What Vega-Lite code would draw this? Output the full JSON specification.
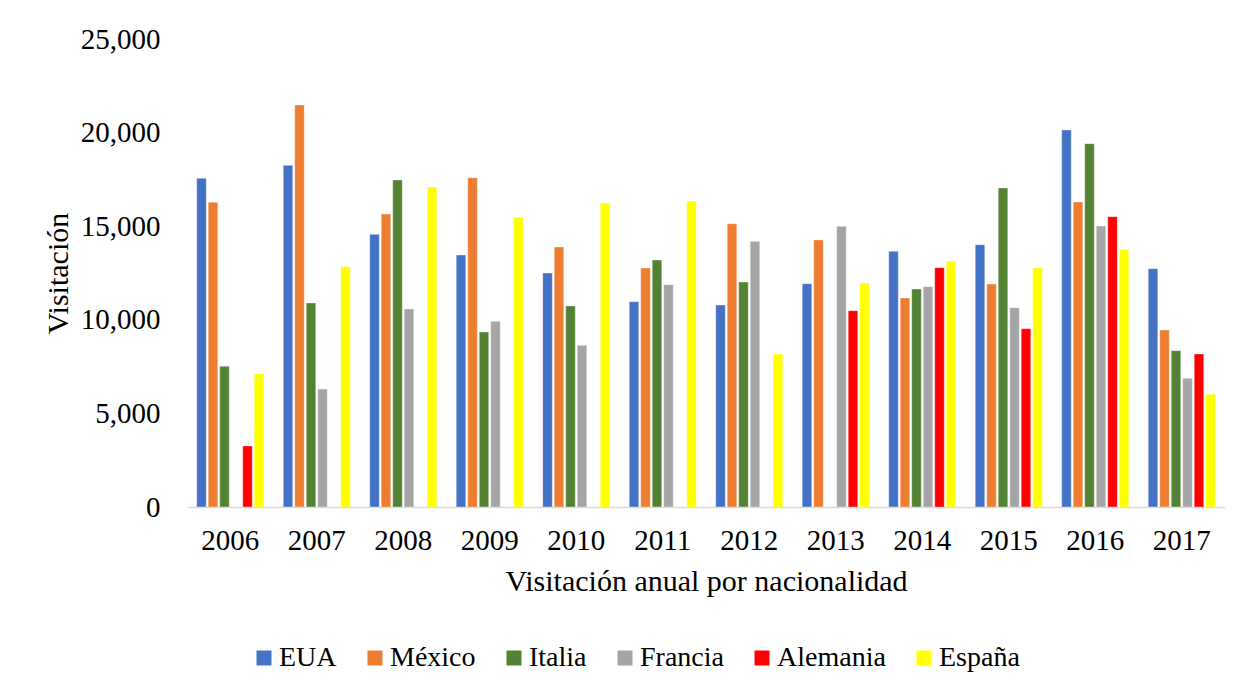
{
  "$schema": "https://vega.github.io/schema/vega-lite/v6.json",
  "autosize": {"type": "none"},
  "padding": {"left": 187, "top": 39, "right": 27, "bottom": 185},
  "width": 1038,
  "height": 468,
  "background": "white",
  "config": {
    "font": "Liberation Serif, Times New Roman, serif",
    "view": {"stroke": null},
    "style": {"guide-label": {"font": "Liberation Serif, Times New Roman, serif"}, "guide-title": {"font": "Liberation Serif, Times New Roman, serif"}},
    "legend": {"labelFont": "Liberation Serif, Times New Roman, serif", "titleFont": "Liberation Serif, Times New Roman, serif"},
    "axis": {"labelFont": "Liberation Serif, Times New Roman, serif", "titleFont": "Liberation Serif, Times New Roman, serif"}
  },
  "data": {
    "values": [
      {"year": "2006", "country": "EUA", "value": 17560},
      {"year": "2006", "country": "México", "value": 16275},
      {"year": "2006", "country": "Italia", "value": 7515},
      {"year": "2006", "country": "Alemania", "value": 3260},
      {"year": "2006", "country": "España", "value": 7120},
      {"year": "2007", "country": "EUA", "value": 18250},
      {"year": "2007", "country": "México", "value": 21475},
      {"year": "2007", "country": "Italia", "value": 10900},
      {"year": "2007", "country": "Francia", "value": 6300},
      {"year": "2007", "country": "España", "value": 12840},
      {"year": "2008", "country": "EUA", "value": 14565},
      {"year": "2008", "country": "México", "value": 15650},
      {"year": "2008", "country": "Italia", "value": 17470},
      {"year": "2008", "country": "Francia", "value": 10580},
      {"year": "2008", "country": "España", "value": 17095},
      {"year": "2009", "country": "EUA", "value": 13460},
      {"year": "2009", "country": "México", "value": 17590},
      {"year": "2009", "country": "Italia", "value": 9350},
      {"year": "2009", "country": "Francia", "value": 9920},
      {"year": "2009", "country": "España", "value": 15475},
      {"year": "2010", "country": "EUA", "value": 12500},
      {"year": "2010", "country": "México", "value": 13890},
      {"year": "2010", "country": "Italia", "value": 10740},
      {"year": "2010", "country": "Francia", "value": 8635},
      {"year": "2010", "country": "España", "value": 16240},
      {"year": "2011", "country": "EUA", "value": 10970},
      {"year": "2011", "country": "México", "value": 12765},
      {"year": "2011", "country": "Italia", "value": 13195},
      {"year": "2011", "country": "Francia", "value": 11877},
      {"year": "2011", "country": "España", "value": 16345},
      {"year": "2012", "country": "EUA", "value": 10790},
      {"year": "2012", "country": "México", "value": 15135},
      {"year": "2012", "country": "Italia", "value": 12020},
      {"year": "2012", "country": "Francia", "value": 14190},
      {"year": "2012", "country": "España", "value": 8173},
      {"year": "2013", "country": "EUA", "value": 11930},
      {"year": "2013", "country": "México", "value": 14263},
      {"year": "2013", "country": "Francia", "value": 14993},
      {"year": "2013", "country": "Alemania", "value": 10488},
      {"year": "2013", "country": "España", "value": 11966},
      {"year": "2014", "country": "EUA", "value": 13657},
      {"year": "2014", "country": "México", "value": 11165},
      {"year": "2014", "country": "Italia", "value": 11645},
      {"year": "2014", "country": "Francia", "value": 11770},
      {"year": "2014", "country": "Alemania", "value": 12785},
      {"year": "2014", "country": "España", "value": 13123},
      {"year": "2015", "country": "EUA", "value": 14013},
      {"year": "2015", "country": "México", "value": 11912},
      {"year": "2015", "country": "Italia", "value": 17040},
      {"year": "2015", "country": "Francia", "value": 10648},
      {"year": "2015", "country": "Alemania", "value": 9527},
      {"year": "2015", "country": "España", "value": 12785},
      {"year": "2016", "country": "EUA", "value": 20139},
      {"year": "2016", "country": "México", "value": 16293},
      {"year": "2016", "country": "Italia", "value": 19410},
      {"year": "2016", "country": "Francia", "value": 15011},
      {"year": "2016", "country": "Alemania", "value": 15510},
      {"year": "2016", "country": "España", "value": 13765},
      {"year": "2017", "country": "EUA", "value": 12732},
      {"year": "2017", "country": "México", "value": 9455},
      {"year": "2017", "country": "Italia", "value": 8352},
      {"year": "2017", "country": "Francia", "value": 6873},
      {"year": "2017", "country": "Alemania", "value": 8173},
      {"year": "2017", "country": "España", "value": 6019}
    ]
  },
  "mark": {"type": "bar", "stroke": "white", "strokeWidth": 0.6, "strokeOpacity": 0.6},
  "encoding": {
    "x": {
      "field": "year",
      "type": "nominal",
      "scale": {"paddingInner": 0.225, "paddingOuter": 0.1125},
      "axis": {
        "title": "Visitación anual por nacionalidad",
        "titleFontSize": 30,
        "titleFontWeight": "normal",
        "titleColor": "#000000",
        "titlePadding": 11,
        "labelFontSize": 29,
        "labelColor": "#000000",
        "labelAngle": 0,
        "labelPadding": 19,
        "ticks": false,
        "domainColor": "#D9D9D9",
        "domainWidth": 1.5,
        "grid": false
      }
    },
    "xOffset": {
      "field": "country",
      "type": "nominal",
      "sort": ["EUA", "México", "Italia", "Francia", "Alemania", "España"],
      "scale": {"paddingInner": 0.17}
    },
    "y": {
      "field": "value",
      "type": "quantitative",
      "scale": {"domain": [0, 25000], "nice": false},
      "axis": {
        "title": "Visitación",
        "titleFontSize": 30,
        "titleFontWeight": "normal",
        "titleColor": "#000000",
        "titlePadding": 7,
        "labelFontSize": 29,
        "labelColor": "#000000",
        "labelPadding": 27,
        "values": [0, 5000, 10000, 15000, 20000, 25000],
        "format": ",d",
        "ticks": false,
        "domain": false,
        "grid": false
      }
    },
    "color": {
      "field": "country",
      "type": "nominal",
      "scale": {
        "domain": ["EUA", "México", "Italia", "Francia", "Alemania", "España"],
        "range": ["#4472C4", "#ED7D31", "#548235", "#A5A5A5", "#FF0000", "#FFFF00"]
      },
      "legend": {
        "title": null,
        "orient": "none",
        "direction": "horizontal",
        "legendX": 63,
        "legendY": 605,
        "symbolType": "square",
        "symbolSize": 225,
        "symbolStrokeWidth": 0,
        "labelFontSize": 28,
        "labelColor": "#000000",
        "labelOffset": 1,
        "columnPadding": 24
      }
    }
  }
}
